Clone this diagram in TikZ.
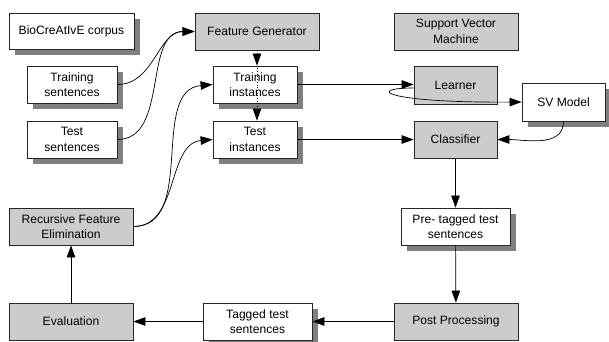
\documentclass[tikz,border=0pt]{standalone}
\usepackage{fontspec}
\setmainfont{Liberation Sans}
\usetikzlibrary{arrows.meta, shadows, positioning}
\definecolor{boxgray}{HTML}{CCCCCC}
\definecolor{shadowgray}{HTML}{808080}
\tikzset{
	base/.style={
		draw=black!85,
		line width=0.8pt,
		align=center,
		inner sep=1pt,
		font=\fontsize{12.1}{15.5}\selectfont
	},
	wbox/.style={
		base,
		fill=white,
		drop shadow={shadow xshift=6pt, shadow yshift=-6pt, fill=shadowgray, opacity=1}
	},
	gbox/.style={
		base,
		fill=boxgray
	},
	arr/.style={
		line width=0.7pt,
		-{Triangle[length=12pt,width=8.5pt]}
	}
}

\begin{document}
\begin{tikzpicture}[x=1pt, y=-1pt]
		\useasboundingbox (0,0) rectangle (609,341);
		% left column
		\node[wbox, minimum width=125pt, minimum height=36pt] (corpus) at (71.5,31) {BioCreAtIvE corpus};
		\node[wbox, minimum width=90pt, minimum height=37pt] (trsent) at (72,84.5) {Training\\sentences};
		\node[wbox, minimum width=90pt, minimum height=37pt] (tesent) at (72,139.5) {Test\\sentences};
		\node[gbox, minimum width=124pt, minimum height=37pt] (rfe) at (71,226.5) {Recursive Feature\\Elimination};
		\node[gbox, minimum width=124pt, minimum height=37pt] (eval) at (71,321.5) {Evaluation};
		% middle column
		\node[gbox, minimum width=124pt, minimum height=37pt] (fg) at (257,31.5) {Feature Generator};
		\node[wbox, minimum width=84pt, minimum height=37pt] (trinst) at (255,84.5) {Training\\instances};
		\node[wbox, minimum width=84pt, minimum height=37pt] (teinst) at (255,139.5) {Test\\instances};
		\node[wbox, minimum width=109pt, minimum height=37pt] (tagged) at (257.5,321.5) {Tagged test\\sentences};
		% right column
		\node[gbox, minimum width=124pt, minimum height=37pt] (svmach) at (456,31.5) {Support Vector\\Machine};
		\node[gbox, minimum width=83pt, minimum height=38pt] (learner) at (455.5,85) {Learner};
		\node[wbox, minimum width=83pt, minimum height=38pt] (svm) at (563.5,102) {SV Model};
		\node[gbox, minimum width=83pt, minimum height=37pt] (classifier) at (455.5,139.5) {Classifier};
		\node[wbox, minimum width=109pt, minimum height=37pt] (pretag) at (455.5,226.5) {Pre- tagged test\\sentences};
		\node[gbox, minimum width=124pt, minimum height=37pt] (post) at (456,321.5) {Post Processing};

		\draw[arr] (trsent.east) to[out=0, in=180] (fg.west);
		\draw[arr] (tesent.east) to[out=0, in=180] (fg.west);
		\draw[arr, dotted] (fg.south) -- (fg.south |- trinst.north);
		\draw[arr, dotted] (fg.south |- trinst.north) -- (fg.south |- teinst.north);
		\draw[arr] (rfe.east) to[out=0, in=185] (trinst.west);
		\draw[arr] (rfe.east) to[out=0, in=185] (teinst.west);
		\draw[arr] (trinst.east) -- (trinst.east -| learner.west);
		\draw[arr] (teinst.east) -- (classifier.west);
		\draw[arr] ([yshift=-3pt]learner.west) .. controls +(-48,0) and +(-138,1) .. (svm.west);
		\draw[arr] (svm.south) to[out=-90, in=0] (classifier.east);
		\draw[arr] (classifier) -- (pretag);
		\draw[arr] (pretag) -- (post);
		\draw[arr] (post) -- (tagged);
		\draw[arr] (tagged) -- (eval);
		\draw[arr] (eval) -- (rfe);
\end{tikzpicture}
\end{document}
